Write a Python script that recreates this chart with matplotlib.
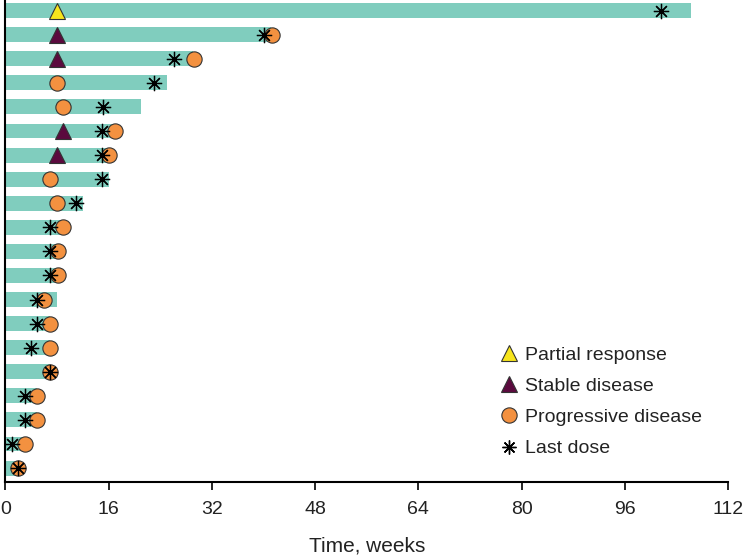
import numpy as np
import matplotlib.pyplot as plt
from matplotlib.lines import Line2D

plt.rcParams['font.family'] = ['Liberation Sans', 'DejaVu Sans']

# one entry per patient, top row first
duration = [106.2, 41.1, 29.1, 25.0, 21.0, 17.0, 16.0, 16.0, 12.0, 9.0,
            8.0, 8.0, 8.0, 7.0, 7.0, 7.0, 5.0, 5.0, 3.0, 2.0]
last_dose = [101.5, 40.1, 26.1, 23.1, 15.1, 15.0, 15.0, 15.0, 11.0, 7.0,
             7.0, 7.0, 5.0, 5.0, 4.0, 7.0, 3.0, 3.0, 1.0, 2.0]
pd_time = [np.nan, 41.3, 29.2, 8.0, 9.0, 17.0, 16.1, 7.0, 8.0, 9.0,
           8.1, 8.1, 6.0, 7.0, 7.0, 7.0, 5.0, 5.0, 3.0, 2.0]
sd_time = [np.nan, 8.0, 8.0, np.nan, np.nan, 9.0, 8.0, np.nan, np.nan, np.nan,
           np.nan, np.nan, np.nan, np.nan, np.nan, np.nan, np.nan, np.nan, np.nan, np.nan]
pr_time = [8.0] + [np.nan] * 19

xticks = [0, 16, 32, 48, 64, 80, 96, 112]

bar_col = '#80cdbe'
pr_col = '#f7e51c'
sd_col = '#5b0a3e'
pd_col = '#f39140'
txt_col = '#222222'

n = len(duration)
ypos = np.arange(n, 0, -1)

fig = plt.figure(figsize=(7.45, 5.55), dpi=100)
ax = fig.add_axes([0.007, 0.131, 0.9706, 0.869])

ax.barh(ypos, duration, height=0.62, color=bar_col, zorder=1)
ax.plot(pr_time, ypos, linestyle='none', marker='^', markersize=12,
        markerfacecolor=pr_col, markeredgecolor='#333333', markeredgewidth=0.8, zorder=3)
ax.plot(sd_time, ypos, linestyle='none', marker='^', markersize=12,
        markerfacecolor=sd_col, markeredgecolor='#333333', markeredgewidth=0.8, zorder=3)
ax.plot(pd_time, ypos, linestyle='none', marker='o', markersize=11,
        markerfacecolor=pd_col, markeredgecolor='#333333', markeredgewidth=0.8, zorder=3)
ax.plot(last_dose, ypos, linestyle='none', marker=(8, 2, 0), markersize=11,
        color='black', markeredgewidth=0.9, zorder=4)

ax.set_xlim(0, 112)
ax.set_ylim(0.41, n + 0.44)
ax.set_xticks(xticks)
ax.set_yticks([])
ax.tick_params(axis='x', direction='out', length=5.8, width=1.2, labelsize=14, pad=8,
               labelcolor=txt_col)
for s in ['top', 'right']:
    ax.spines[s].set_visible(False)
ax.spines['left'].set_linewidth(1.5)
ax.spines['bottom'].set_linewidth(1.5)
ax.set_xlabel('Time, weeks', fontsize=15, labelpad=13, color=txt_col)

handles = [
    Line2D([0], [0], linestyle='none', marker='^', markersize=12, markerfacecolor=pr_col,
           markeredgecolor='#333333', markeredgewidth=0.8, label='Partial response'),
    Line2D([0], [0], linestyle='none', marker='^', markersize=12, markerfacecolor=sd_col,
           markeredgecolor='#333333', markeredgewidth=0.8, label='Stable disease'),
    Line2D([0], [0], linestyle='none', marker='o', markersize=11, markerfacecolor=pd_col,
           markeredgecolor='#333333', markeredgewidth=0.8, label='Progressive disease'),
    Line2D([0], [0], linestyle='none', marker=(8, 2, 0), markersize=10, color='black',
           label='Last dose'),
]
leg = ax.legend(handles=handles, loc='upper left', bbox_to_anchor=(0.644, 0.407),
                bbox_transform=fig.transFigure, frameon=False, fontsize=14,
                handletextpad=0.25, handlelength=1.2, labelspacing=0.69)
for t in leg.get_texts():
    t.set_color(txt_col)

fig.savefig('out.png', dpi=100)
